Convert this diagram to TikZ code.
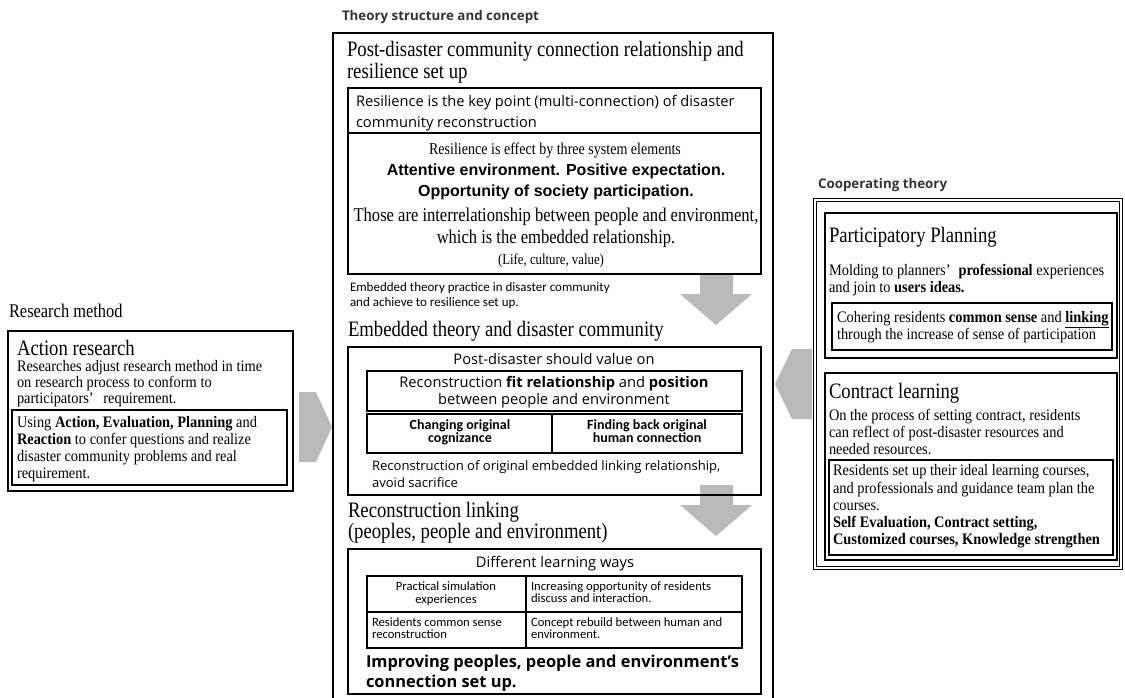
\documentclass[tikz,border=0pt]{standalone}
\usepackage{fontspec}
\setmainfont{Liberation Serif}
\newfontfamily\ming{Liberation Serif}[FakeStretch=0.85]
\newfontfamily\mingb{Liberation Serif}[FakeStretch=0.9]
\newfontfamily\gothic{Open Sans}
\newfontfamily\cali{Carlito}
\newfontfamily\arialf{Liberation Sans}
\begin{document}
\begin{tikzpicture}[x=0.75pt,y=-0.75pt,
  every node/.style={inner sep=0pt,outer sep=0pt},
  hdr/.style={font=\gothic\bfseries\fontsize{10}{12}\selectfont,text=black!80},
  ttl/.style={font=\ming\fontsize{16.5}{16.5}\selectfont},
  sec/.style={font=\ming\fontsize{14.5}{14.5}\selectfont},
  body/.style={font=\mingb\fontsize{12}{12}\selectfont},
  serm/.style={font=\ming\fontsize{12.4}{12.4}\selectfont},
  serl/.style={font=\ming\fontsize{14.6}{14.6}\selectfont},
  sers/.style={font=\ming\fontsize{11.3}{11.3}\selectfont},
  gsans/.style={font=\gothic\fontsize{11}{11}\selectfont},
  gsmall/.style={font=\gothic\fontsize{9.8}{9.8}\selectfont},
  gbold/.style={font=\gothic\bfseries\fontsize{12.3}{12.3}\selectfont},
  absans/.style={font=\arialf\bfseries\fontsize{12}{12}\selectfont},
  calis/.style={font=\cali\fontsize{9.75}{9.75}\selectfont},
  calib/.style={font=\cali\bfseries\fontsize{10.5}{10.5}\selectfont},
  calit/.style={font=\cali\fontsize{9.5}{9.5}\selectfont},
  mainframe/.style={draw,line width=1.6pt},
  frame/.style={draw,line width=1.1pt},
  heavy/.style={draw,line width=1.8pt},
  thinrule/.style={draw,line width=0.8pt},
  dblframe/.style={draw,double,line width=0.8pt,double distance=1.2pt},
  blockarrow/.style={fill=black!27,draw=none}]
\useasboundingbox (0,0) rectangle (1125,697);

% ---------- block arrows between the columns and sections ----------
\fill[blockarrow] (299,392) -- (316,392) -- (332,427) -- (316,462) -- (299,462) -- cycle;
\fill[blockarrow] (812,349) -- (792,349) -- (775,384) -- (792,419) -- (812,419) -- cycle;
\fill[blockarrow] (700,274) -- (733,274) -- (733,294) -- (752,294) -- (716,325) -- (680,294) -- (700,294) -- cycle;
\fill[blockarrow] (700,485) -- (733,485) -- (733,505) -- (752,505) -- (716,536) -- (680,505) -- (700,505) -- cycle;

% ---------- left column: research method ----------
\node[sec,anchor=base west] (hMethod) at (9,317) {Research method};
\draw[frame] (8,331) rectangle (293,491);
\node[ttl,anchor=base west] (aTitle) at (17,355) {Action research};
\node[body,anchor=base west] (a1) at (17,371) {Researches adjust research method in time};
\node[body,anchor=base west] (a2) at (17,387) {on research process to conform to};
\node[body,anchor=base west] (a3) at (17,403) {participators’\hspace{0.6em}requirement.};
\draw[heavy] (12,410) rectangle (287,485);
\node[body,anchor=base west] (b1) at (17,427) {Using \textbf{Action, Evaluation, Planning} and};
\node[body,anchor=base west] (b2) at (17,444) {\textbf{Reaction} to confer questions and realize};
\node[body,anchor=base west] (b3) at (17,461) {disaster community problems and real};
\node[body,anchor=base west] (b4) at (17,478) {requirement.};

% ---------- middle column: theory structure and concept ----------
\node[hdr,anchor=base west] (hTheory) at (342,20) {Theory structure and concept};
\draw[mainframe] (333,33) rectangle (773,710);

\node[ttl,anchor=base west] (t1a) at (347,56) {Post-disaster community connection relationship and};
\node[ttl,anchor=base west] (t1b) at (347,78) {resilience set up};

\draw[frame] (348,88) rectangle (761,274);
\draw[thinrule] (348,133) -- (761,133);
\node[gsans,anchor=base west] (r1) at (356,106) {Resilience is the key point (multi-connection) of disaster};
\node[gsans,anchor=base west] (r2) at (356,127) {community reconstruction};
\node[serm,anchor=base] (r3) at (555,154) {Resilience is effect by three system elements};
\node[absans,anchor=base] (r4) at (556,175) {Attentive environment. Positive expectation.};
\node[absans,anchor=base] (r5) at (556,196) {Opportunity of society participation.};
\node[serl,anchor=base] (r6) at (556,221) {Those are interrelationship between people and environment,};
\node[serl,anchor=base] (r7) at (556,243) {which is the embedded relationship.};
\node[sers,anchor=base] (r8) at (551,264) {(Life, culture, value)};

\node[calis,anchor=base west] (e1) at (350,291) {Embedded theory practice in disaster community};
\node[calis,anchor=base west] (e2) at (350,306) {and achieve to resilience set up.};

\node[ttl,anchor=base west] (t2) at (348,336) {Embedded theory and disaster community};

\draw[frame] (348,347) rectangle (761,495);
\node[gsans,anchor=base] (p1) at (554,364) {Post-disaster should value on};
\draw[thinrule] (367,371) rectangle (742,411);
\node[gsans,anchor=base] (p2) at (554,387) {Reconstruction \textbf{fit relationship} and \textbf{position}};
\node[gsans,anchor=base] (p3) at (554,404) {between people and environment};
\draw[thinrule] (367,414) rectangle (742,453);
\draw[thinrule] (552,414) -- (552,453);
\node[calib,anchor=base] (g1) at (460,429) {Changing original};
\node[calib,anchor=base] (g2) at (460,442) {cognizance};
\node[calib,anchor=base] (g3) at (647,429) {Finding back original};
\node[calib,anchor=base] (g4) at (647,442) {human connection};
\node[gsmall,anchor=base west] (p4) at (372,470) {Reconstruction of original embedded linking relationship,};
\node[gsmall,anchor=base west] (p5) at (372,487) {avoid sacrifice};

\node[ttl,anchor=base west] (t3a) at (348,517) {Reconstruction linking};
\node[ttl,anchor=base west] (t3b) at (348,538) {(peoples, people and environment)};

\draw[frame] (348,549) rectangle (761,694);
\node[gsans,anchor=base] (l1) at (555,567) {Different learning ways};
\draw[thinrule] (367,576) rectangle (742,648);
\draw[thinrule] (367,612) -- (742,612);
\draw[thinrule] (526,576) -- (526,648);
\node[calit,anchor=base] (c1) at (446,590) {Practical simulation};
\node[calit,anchor=base] (c2) at (446,603) {experiences};
\node[calit,anchor=base west] (c3) at (531,590) {Increasing opportunity of residents};
\node[calit,anchor=base west] (c4) at (531,602) {discuss and interaction.};
\node[calit,anchor=base west] (c5) at (372,626) {Residents common sense};
\node[calit,anchor=base west] (c6) at (372,638) {reconstruction};
\node[calit,anchor=base west] (c7) at (531,626) {Concept rebuild between human and};
\node[calit,anchor=base west] (c8) at (531,638) {environment.};
\node[gbold,anchor=base west] (l2) at (366,667) {Improving peoples, people and environment’s};
\node[gbold,anchor=base west] (l3) at (366,687) {connection set up.};

% ---------- right column: cooperating theory ----------
\node[hdr,anchor=base west] (hCoop) at (818,188) {Cooperating theory};
\draw[dblframe] (815,200) rectangle (1121,568);

\draw[frame] (825,213) rectangle (1117,358);
\node[ttl,anchor=base west] (pTitle) at (829,242) {Participatory Planning};
\node[body,anchor=base west] (pp1) at (829,275) {Molding to planners’\hspace{0.5em}\textbf{professional} experiences};
\node[body,anchor=base west] (pp2) at (829,292) {and join to \textbf{users ideas.}};
\draw[heavy] (832,303) rectangle (1112,350);
\node[body,anchor=base west] (q1) at (837,322) {Cohering residents \textbf{common sense} and \underline{\textbf{linking}}};
\node[body,anchor=base west] (q2) at (837,339) {through the increase of sense of participation};

\draw[frame] (825,373) rectangle (1117,560);
\node[ttl,anchor=base west] (kTitle) at (829,398) {Contract learning};
\node[body,anchor=base west] (k1) at (829,420) {On the process of setting contract, residents};
\node[body,anchor=base west] (k2) at (829,437) {can reflect of post-disaster resources and};
\node[body,anchor=base west] (k3) at (829,454) {needed resources.};
\draw[heavy] (829,460) rectangle (1113,555);
\node[body,anchor=base west] (m1) at (833,475) {Residents set up their ideal learning courses,};
\node[body,anchor=base west] (m2) at (833,493) {and professionals and guidance team plan the};
\node[body,anchor=base west] (m3) at (833,510) {courses.};
\node[body,anchor=base west] (m4) at (833,527) {\textbf{Self Evaluation, Contract setting,}};
\node[body,anchor=base west] (m5) at (833,544) {\textbf{Customized courses, Knowledge strengthen}};
\end{tikzpicture}
\end{document}
